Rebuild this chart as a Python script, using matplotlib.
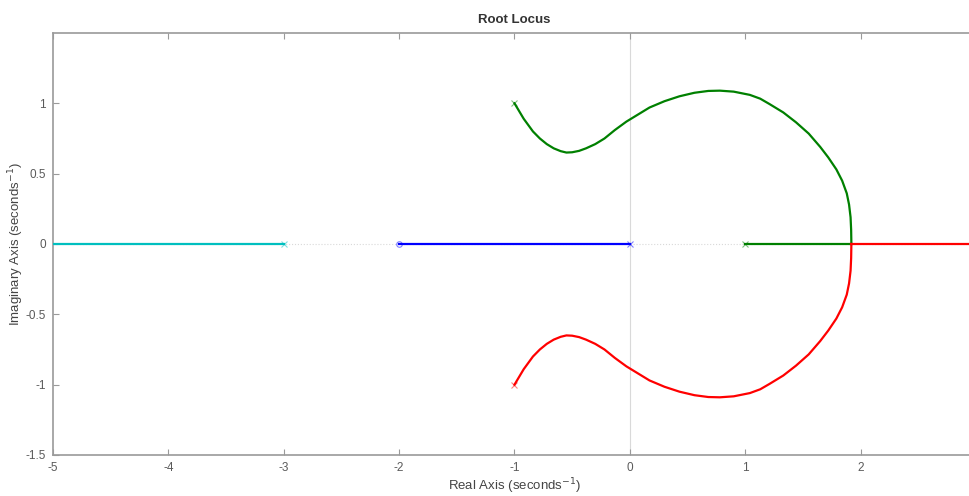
import matplotlib
matplotlib.use("Agg")
import numpy as np
import matplotlib.pyplot as plt

plt.rcParams["font.family"] = ["Liberation Sans", "DejaVu Sans"]

# upper complex branch (pole at -1+j) up to the break-in point on the real axis
upper_re = [-1.00, -0.96, -0.92, -0.88, -0.84, -0.78, -0.72, -0.66, -0.60, -0.55,
            -0.50, -0.44, -0.38, -0.30, -0.22, -0.13, -0.03, 0.07, 0.17, 0.30,
            0.43, 0.56, 0.68, 0.78, 0.90, 1.04, 1.13, 1.21, 1.33, 1.44,
            1.55, 1.65, 1.72, 1.79, 1.84, 1.88, 1.90, 1.913, 1.918, 1.92]
upper_im = [1.00, 0.945, 0.89, 0.845, 0.80, 0.75, 0.71, 0.68, 0.66, 0.65,
            0.652, 0.662, 0.68, 0.71, 0.75, 0.81, 0.87, 0.92, 0.97, 1.015,
            1.05, 1.075, 1.088, 1.09, 1.083, 1.06, 1.033, 0.995, 0.935, 0.865,
            0.785, 0.69, 0.615, 0.53, 0.45, 0.36, 0.28, 0.19, 0.10, 0.0]

# real-axis branches (start, end)
blue_seg = [0.0, -2.0]
green_seg = [1.0, 1.92]
red_seg = [1.92, 3.0]
cyan_seg = [-3.0, -5.0]

poles = [(-1.0, 1.0, "#008000"), (-1.0, -1.0, "#ff0000"), (0.0, 0.0, "#0000ff"),
         (1.0, 0.0, "#008000"), (-3.0, 0.0, "#00bfbf")]
zeros = [(-2.0, 0.0, "#0000ff")]

xticks = [-5, -4, -3, -2, -1, 0, 1, 2, 3]
yticks = [-1.5, -1, -0.5, 0, 0.5, 1]

fig = plt.figure(figsize=(9.69, 4.96), dpi=100)
ax = fig.add_axes([0.0547, 0.0827, 0.9525, 0.8508])

# s-plane axes lines
ax.axhline(0, color="#d9d9d9", lw=0.8, ls=":", zorder=1)
ax.axvline(0, color="#d9d9d9", lw=0.8, ls="-", zorder=1)

lw = 1.6
ax.plot(upper_re, upper_im, color="#008000", lw=lw, zorder=3)
ax.plot(upper_re, -np.array(upper_im), color="#ff0000", lw=lw, zorder=3)
ax.plot(blue_seg, [0, 0], color="#0000ff", lw=lw, zorder=3)
ax.plot(green_seg, [0, 0], color="#008000", lw=lw, zorder=3)
ax.plot(red_seg, [0, 0], color="#ff0000", lw=lw, zorder=3)
ax.plot(cyan_seg, [0, 0], color="#00bfbf", lw=lw, zorder=3)

for re, im, c in poles:
    ax.plot(re, im, marker="x", ms=4, mew=0.8, color=c, alpha=0.5, zorder=4)
for re, im, c in zeros:
    ax.plot(re, im, marker="o", ms=4, mew=0.8, mfc="none", color=c, alpha=0.5, zorder=4)

ax.set_xlim(-5, 3)
ax.set_ylim(-1.5, 1.5)
ax.set_xticks(xticks)
ax.set_yticks(yticks)
# the last x tick sits on the clipped right edge, so it carries no label
ax.set_xticklabels([f"{t:g}" if t < 3 else "" for t in xticks])
ax.set_yticklabels([f"{t:g}" for t in yticks])

axis_col = "#9a9a9a"
for sp in ax.spines.values():
    sp.set_color(axis_col)
    sp.set_linewidth(1.2)
ax.tick_params(direction="in", top=True, right=True, length=4, width=0.8,
               colors=axis_col, labelcolor="#5a5a5a", labelsize=8.5, pad=5)

ax.set_title("Root Locus", fontsize=9.5, fontweight="bold", color="#333333", pad=7)
ax.set_xlabel("Real Axis (seconds$^{-1}$)", fontsize=9.5, color="#444444", labelpad=2)
ax.set_ylabel("Imaginary Axis (seconds$^{-1}$)", fontsize=9.5, color="#444444", labelpad=0)

fig.savefig("out.png", dpi=100)
